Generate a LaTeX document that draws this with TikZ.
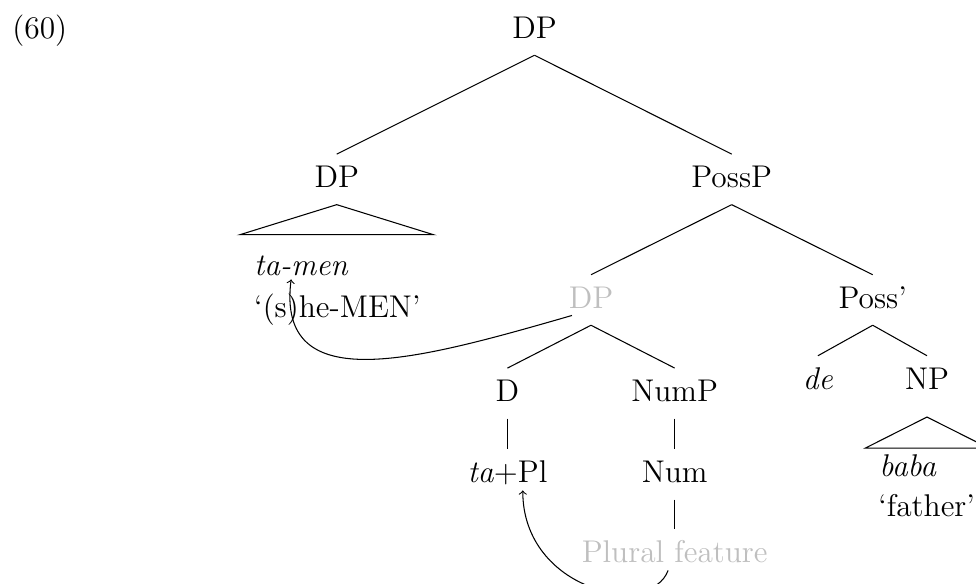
\documentclass[tikz,border=0pt]{standalone}
\usepackage{fontspec}
\begin{document}
\begin{tikzpicture}[
        font=\fontsize{14.9}{17.5}\selectfont,
        cat/.style={
            anchor=base, text height=0.345cm,
            text depth=0.067cm, inner ysep=0.208cm
        },
        leaf/.style={anchor=base west, inner xsep=0pt},
        ghost/.style={text=black!25},
        branch/.style={line width=0.5pt},
        mover/.style={->, line width=0.5pt}
    ]
    \useasboundingbox (0,0) rectangle (16.267, 9.717);

    % Example number
    \node[leaf] (exnum) at (0.2, 9.083) {(60)};

    % Categories, level by level
    \node[cat] (dptop) at (8.908, 9.078) {DP};
    \node[cat] (dpl) at (5.612, 6.588) {DP};
    \node[cat] (possp) at (12.195, 6.588) {PossP};
    \node[cat, ghost] (dpg) at (9.850, 4.578) {DP};
    \node[cat] (possbar) at (14.545, 4.578) {Poss’};
    \node[cat] (dd) at (8.458, 3.022) {D};
    \node[cat] (nump) at (11.245, 3.022) {NumP};
    \node[cat] (de) at (13.633, 3.228) {\textit{de}};
    \node[cat] (np) at (15.450, 3.228) {NP};
    \node[cat] (tapl) at (8.458, 1.672) {\textit{ta}+Pl};
    \node[cat] (num) at (11.245, 1.672) {Num};
    \node[cat, ghost] (plural) at (11.245, 0.338) {Plural feature};

    % Words under the roofs
    \node[leaf] (tamen) at (4.230, 5.133) {\textit{ta-men}};
    \node[leaf] (tamengloss) at (4.230, 4.417) {‘(s)he-MEN’};
    \node[leaf] (baba) at (14.650, 1.772) {\textit{baba}};
    \node[leaf] (babagloss) at (14.633, 1.105) {‘father’};

    % Branches
    \draw[branch] (dptop.south) -- (dpl.north);
    \draw[branch] (dptop.south) -- (possp.north);
    \draw[branch] (possp.south) -- (dpg.north);
    \draw[branch] (possp.south) -- (possbar.north);
    \draw[branch] (dpg.south) -- (dd.north);
    \draw[branch] (dpg.south) -- (nump.north);
    \draw[branch] (possbar.south) -- (de.north);
    \draw[branch] (possbar.south) -- (np.north);
    \draw[branch] (dd.south) -- (tapl.north);
    \draw[branch] (nump.south) -- (num.north);
    \draw[branch] (num.south) -- (plural.north);

    % Roofs
    \draw[branch] (dpl.south) -- +(-1.61,-0.5) -- +(1.61,-0.5) -- cycle;
    \draw[branch] ([yshift=-0.18cm]np.south)
        -- +(-1.027,-0.517) -- +(1.027,-0.517) -- cycle;

    % Movement arrows
    \draw[mover] ([xshift=-0.317cm, yshift=0.163cm]dpg.south)
        .. controls +(-2.6,-0.75) and +(-0.25,-2.0) ..
        ([xshift=-0.17cm, yshift=0.057cm]tamen.south);
    \draw[mover] ([xshift=-0.11cm, yshift=0.153cm]plural.south)
        .. controls +(-0.3,-0.8) and +(0,-1.667) ..
        ([xshift=0.255cm, yshift=0.153cm]tapl.south);

\end{tikzpicture}
\end{document}
